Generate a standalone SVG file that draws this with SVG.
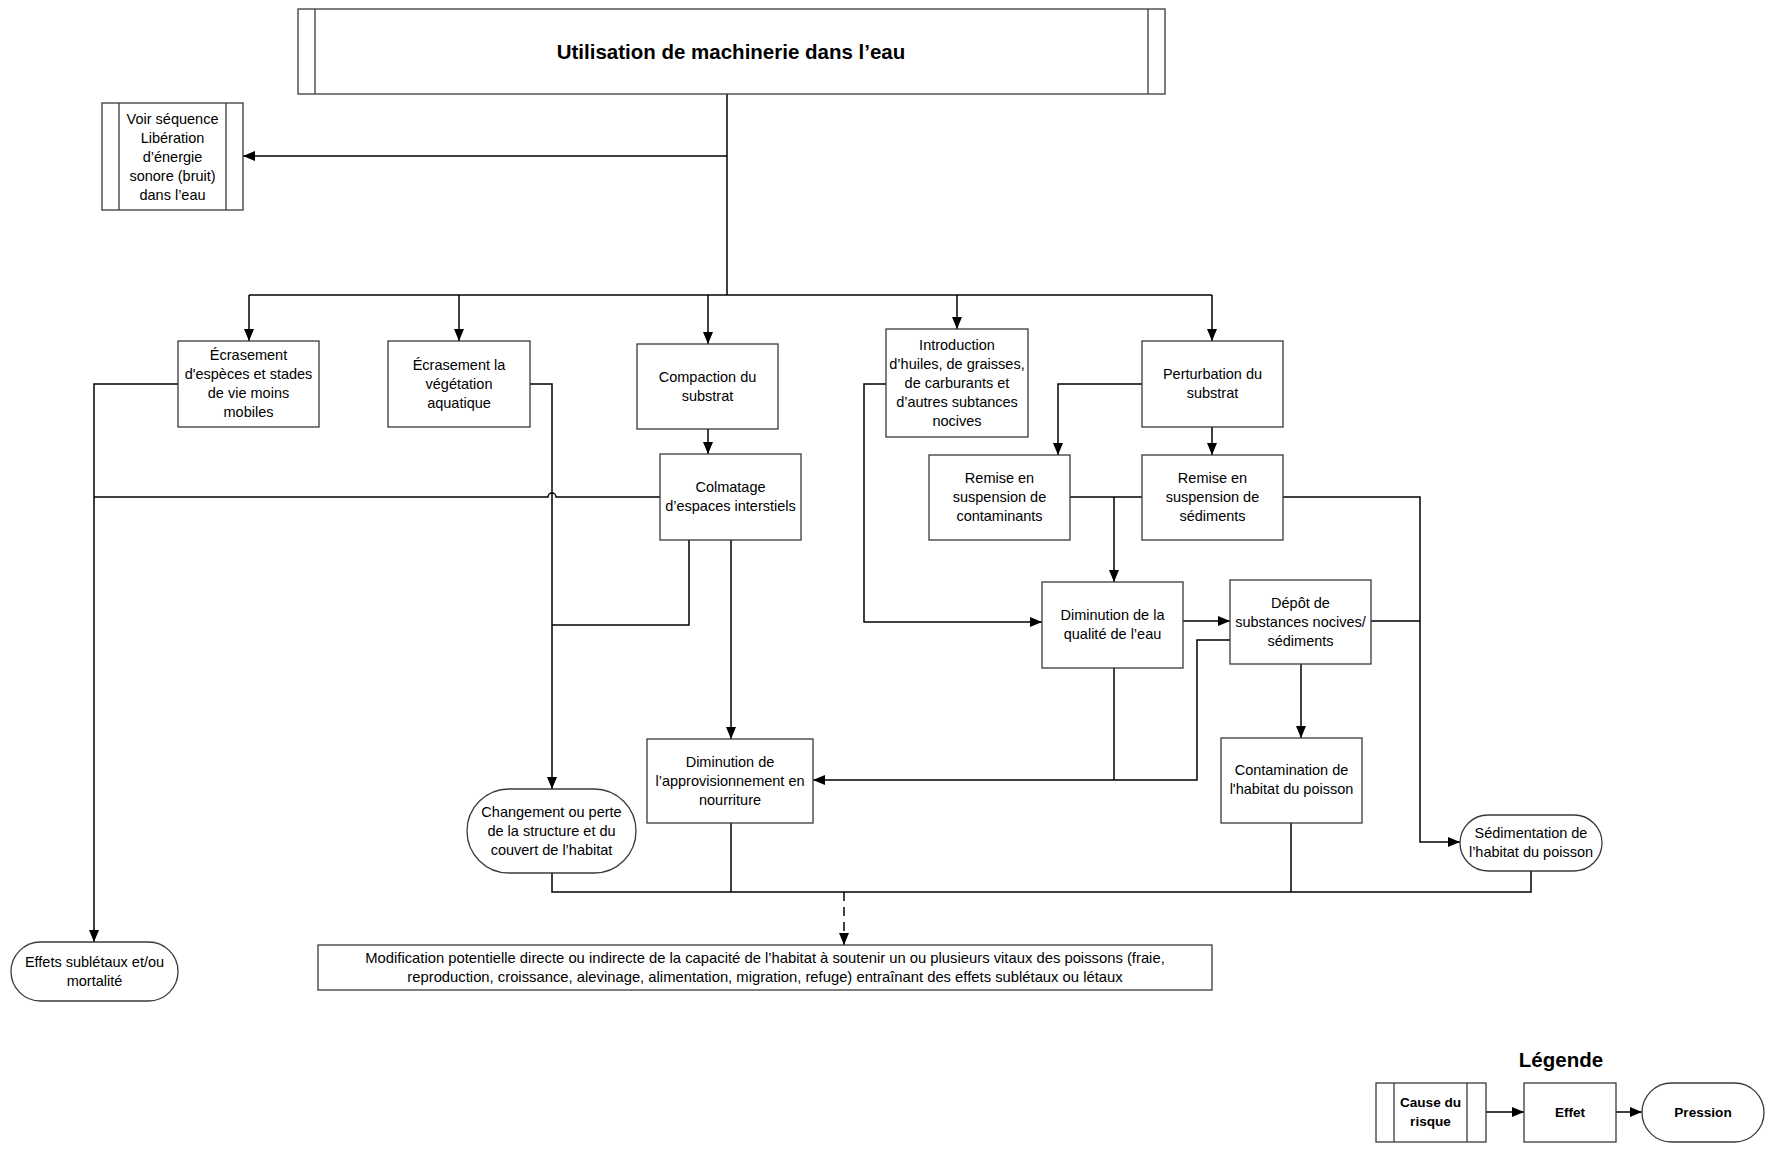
<svg xmlns="http://www.w3.org/2000/svg" width="1774" height="1149" viewBox="0 0 1774 1149">
<defs>
<marker id="arr" viewBox="0 0 12 10" refX="12" refY="5" markerWidth="12" markerHeight="10" markerUnits="userSpaceOnUse" orient="auto"><path d="M0,0 L12,5 L0,10 z" fill="#000"/></marker>
<style>
.b{fill:#fff;stroke:#3a3a3a;stroke-width:1.3}
.t{font-family:"Liberation Sans",Arial,sans-serif;font-size:14.5px;fill:#000;text-anchor:middle}
.s{font-size:14.8px}
.l{font-size:13.6px}
.bd{font-weight:bold}
.c{fill:none;stroke:#000;stroke-width:1.5}
.a{marker-end:url(#arr)}
</style>
</defs>
<rect width="1774" height="1149" fill="#fff"/>

<g id="connectors">
<path class="c" d="M727,94 V295"/>
<path class="c a" d="M727,156 H243"/>
<path class="c" d="M249,295 H1212"/>
<path class="c a" d="M249,295 V341"/>
<path class="c a" d="M459,295 V341"/>
<path class="c a" d="M708,295 V344"/>
<path class="c a" d="M957,295 V329"/>
<path class="c a" d="M1212,295 V341"/>
<path class="c a" d="M708,429 V454"/>
<path class="c a" d="M1212,427 V455"/>
<path class="c a" d="M1142,384 H1058 V455"/>
<path class="c" d="M1070,497 H1142"/>
<path class="c a" d="M1114,497 V582"/>
<path class="c a" d="M1283,497 H1420 V842 H1460"/>
<path class="c" d="M1371,621 H1420"/>
<path class="c a" d="M886,384 H864 V622 H1042"/>
<path class="c a" d="M1183,621 H1230"/>
<path class="c a" d="M1301,664 V738"/>
<path class="c" d="M1114,668 V780"/>
<path class="c a" d="M1230,640 H1197 V780 H813"/>
<path class="c a" d="M731,540 V739"/>
<path class="c" d="M689,540 V625 H552"/>
<path class="c a" d="M530,384 H552 V789"/>
<path class="c" d="M660,497 H556 a4,4 0 0 0 -8,0 H94"/>
<path class="c a" d="M178,384 H94 V942"/>
<path class="c" d="M552,873 V892 H1531 V871"/>
<path class="c" d="M731,823 V892"/>
<path class="c" d="M1291,823 V892"/>
<path class="c a" d="M844,892 V945" stroke-dasharray="9,6"/>
<path class="c a" d="M1486,1112 H1524"/>
<path class="c a" d="M1616,1112 H1642"/>
</g>

<g id="n-top">
<rect class="b" x="298" y="9" width="867" height="85"/>
<line class="b" x1="315" y1="9" x2="315" y2="94"/>
<line class="b" x1="1148" y1="9" x2="1148" y2="94"/>
<text class="t bd" x="731" y="59" style="font-size:20.5px">Utilisation de machinerie dans l’eau</text>
</g>

<g id="n-voir">
<rect class="b" x="102" y="103" width="141" height="107"/>
<line class="b" x1="119" y1="103" x2="119" y2="210"/>
<line class="b" x1="226" y1="103" x2="226" y2="210"/>
<text class="t" x="172.5" y="124">Voir séquence</text>
<text class="t" x="172.5" y="143">Libération</text>
<text class="t" x="172.5" y="162">d’énergie</text>
<text class="t" x="172.5" y="181">sonore (bruit)</text>
<text class="t" x="172.5" y="200">dans l’eau</text>
</g>

<g id="n-ecr-esp">
<rect class="b" x="178" y="341" width="141" height="86"/>
<text class="t" x="248.5" y="360">Écrasement</text>
<text class="t" x="248.5" y="379">d'espèces et stades</text>
<text class="t" x="248.5" y="398">de vie moins</text>
<text class="t" x="248.5" y="417">mobiles</text>
</g>

<g id="n-ecr-veg">
<rect class="b" x="388" y="341" width="142" height="86"/>
<text class="t" x="459" y="370">Écrasement la</text>
<text class="t" x="459" y="389">végétation</text>
<text class="t" x="459" y="408">aquatique</text>
</g>

<g id="n-compaction">
<rect class="b" x="637" y="344" width="141" height="85"/>
<text class="t" x="707.5" y="382">Compaction du</text>
<text class="t" x="707.5" y="401">substrat</text>
</g>

<g id="n-introduction">
<rect class="b" x="886" y="329" width="142" height="108"/>
<text class="t" x="957" y="350">Introduction</text>
<text class="t" x="957" y="369">d’huiles, de graisses,</text>
<text class="t" x="957" y="388">de carburants et</text>
<text class="t" x="957" y="407">d’autres subtances</text>
<text class="t" x="957" y="426">nocives</text>
</g>

<g id="n-perturbation">
<rect class="b" x="1142" y="341" width="141" height="86"/>
<text class="t" x="1212.5" y="379">Perturbation du</text>
<text class="t" x="1212.5" y="398">substrat</text>
</g>

<g id="n-colmatage">
<rect class="b" x="660" y="454" width="141" height="86"/>
<text class="t" x="730.5" y="492">Colmatage</text>
<text class="t" x="730.5" y="511">d’espaces interstiels</text>
</g>

<g id="n-remise-cont">
<rect class="b" x="929" y="455" width="141" height="85"/>
<text class="t" x="999.5" y="483">Remise en</text>
<text class="t" x="999.5" y="502">suspension de</text>
<text class="t" x="999.5" y="521">contaminants</text>
</g>

<g id="n-remise-sed">
<rect class="b" x="1142" y="455" width="141" height="85"/>
<text class="t" x="1212.5" y="483">Remise en</text>
<text class="t" x="1212.5" y="502">suspension de</text>
<text class="t" x="1212.5" y="521">sédiments</text>
</g>

<g id="n-dim-qualite">
<rect class="b" x="1042" y="582" width="141" height="86"/>
<text class="t" x="1112.5" y="620">Diminution de la</text>
<text class="t" x="1112.5" y="639">qualité de l’eau</text>
</g>

<g id="n-depot">
<rect class="b" x="1230" y="580" width="141" height="84"/>
<text class="t" x="1300.5" y="608">Dépôt de</text>
<text class="t" x="1300.5" y="627">substances nocives/</text>
<text class="t" x="1300.5" y="646">sédiments</text>
</g>

<g id="n-dim-appro">
<rect class="b" x="647" y="739" width="166" height="84"/>
<text class="t" x="730" y="767">Diminution de</text>
<text class="t" x="730" y="786">l’approvisionnement en</text>
<text class="t" x="730" y="805">nourriture</text>
</g>

<g id="n-contamination">
<rect class="b" x="1221" y="738" width="141" height="85"/>
<text class="t" x="1291.5" y="775">Contamination de</text>
<text class="t" x="1291.5" y="794">l'habitat du poisson</text>
</g>

<g id="n-changement">
<rect class="b" x="467" y="789" width="169" height="84" rx="42" ry="42"/>
<text class="t" x="551.5" y="817">Changement ou perte</text>
<text class="t" x="551.5" y="836">de la structure et du</text>
<text class="t" x="551.5" y="855">couvert de l’habitat</text>
</g>

<g id="n-sedimentation">
<rect class="b" x="1460" y="815" width="142" height="56" rx="28" ry="28"/>
<text class="t" x="1531" y="838">Sédimentation de</text>
<text class="t" x="1531" y="857">l’habitat du poisson</text>
</g>

<g id="n-effets">
<rect class="b" x="11" y="942" width="167" height="59" rx="29.5" ry="29.5"/>
<text class="t" x="94.5" y="967">Effets sublétaux et/ou</text>
<text class="t" x="94.5" y="986">mortalité</text>
</g>

<g id="n-modification">
<rect class="b" x="318" y="945" width="894" height="45"/>
<text class="t s" x="765" y="963">Modification potentielle directe ou indirecte de la capacité de l’habitat à soutenir un ou plusieurs vitaux des poissons (fraie,</text>
<text class="t s" x="765" y="982">reproduction, croissance, alevinage, alimentation, migration, refuge) entraînant des effets sublétaux ou létaux</text>
</g>

<g id="legend">
<text class="t bd" x="1561" y="1067" style="font-size:20.5px">Légende</text>
<g id="lg-cause">
<rect class="b" x="1376" y="1083" width="110" height="59"/>
<line class="b" x1="1394" y1="1083" x2="1394" y2="1142"/>
<line class="b" x1="1467" y1="1083" x2="1467" y2="1142"/>
<text class="t bd l" x="1430.5" y="1107">Cause du</text>
<text class="t bd l" x="1430.5" y="1126">risque</text>
</g>
<g id="lg-effet">
<rect class="b" x="1524" y="1083" width="92" height="59"/>
<text class="t bd l" x="1570" y="1117">Effet</text>
</g>
<g id="lg-pression">
<rect class="b" x="1642" y="1083" width="122" height="59" rx="29.5" ry="29.5"/>
<text class="t bd l" x="1703" y="1117">Pression</text>
</g>
</g>
</svg>
